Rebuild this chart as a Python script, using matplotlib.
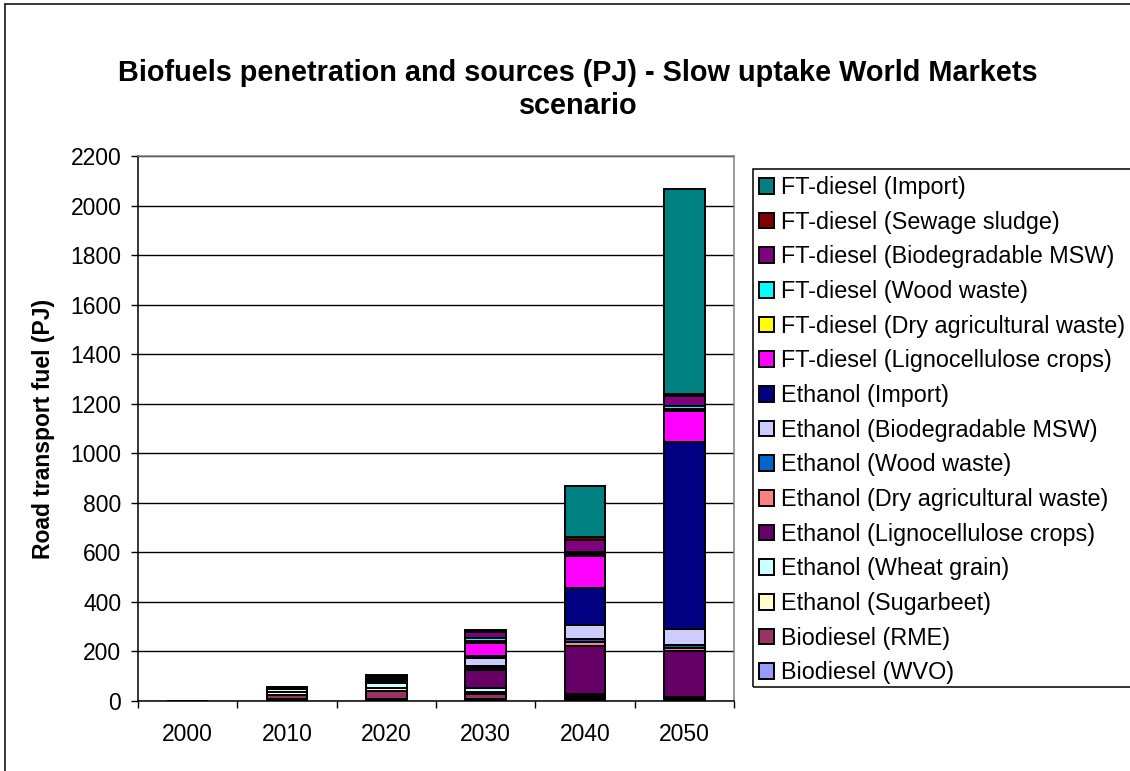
import matplotlib
matplotlib.use("Agg")
import matplotlib.pyplot as plt
from matplotlib.patches import Rectangle
import numpy as np

plt.rcParams['font.family'] = ['Liberation Sans', 'DejaVu Sans']

years = ['2000', '2010', '2020', '2030', '2040', '2050']

# Stack order, bottom to top
labels = [
    'Biodiesel (WVO)',
    'Biodiesel (RME)',
    'Ethanol (Sugarbeet)',
    'Ethanol (Wheat grain)',
    'Ethanol (Lignocellulose crops)',
    'Ethanol (Dry agricultural waste)',
    'Ethanol (Wood waste)',
    'Ethanol (Biodegradable MSW)',
    'Ethanol (Import)',
    'FT-diesel (Lignocellulose crops)',
    'FT-diesel (Dry agricultural waste)',
    'FT-diesel (Wood waste)',
    'FT-diesel (Biodegradable MSW)',
    'FT-diesel (Sewage sludge)',
    'FT-diesel (Import)',
]

wvo         = [0, 8, 10, 8, 8, 10]
rme         = [0, 18, 32, 20, 8, 5]
sugarbeet   = [0, 10, 12, 10, 6, 0]
wheat       = [0, 13, 20, 15, 8, 3]
eth_ligno   = [0, 4, 8, 72, 193, 182]
eth_dryagri = [0, 2, 4, 8, 14, 12]
eth_wood    = [0, 2, 4, 10, 13, 15]
eth_msw     = [0, 0, 5, 32, 57, 65]
eth_import  = [0, 0, 0, 5, 150, 753]
ft_ligno    = [0, 0, 3, 55, 130, 127]
ft_dryagri  = [0, 0, 0, 8, 8, 6]
ft_wood     = [0, 0, 0, 10, 8, 12]
ft_msw      = [0, 0, 3, 24, 45, 42]
ft_sewage   = [0, 0, 0, 4, 13, 8]
ft_import   = [0, 0, 3, 4, 207, 825]

series = [wvo, rme, sugarbeet, wheat, eth_ligno, eth_dryagri, eth_wood,
          eth_msw, eth_import, ft_ligno, ft_dryagri, ft_wood, ft_msw,
          ft_sewage, ft_import]

colors = ['#9999FF', '#993366', '#FFFFCC', '#CCFFFF', '#660066', '#FF8080',
          '#0066CC', '#CCCCFF', '#000080', '#FF00FF', '#FFFF00', '#00FFFF',
          '#800080', '#800000', '#008080']

W, H = 1130, 771
FS = 16.5
fig = plt.figure(figsize=(W / 100, H / 100), dpi=100)

# outer chart border (extends past right/bottom of canvas)
fig.patches.append(Rectangle((5 / W, -0.05), 1.1, 1 - 4 / H + 0.05,
                             transform=fig.transFigure, fill=False,
                             edgecolor='black', linewidth=1.1))

ax = fig.add_axes([138 / W, 1 - 701 / H, (734 - 138) / W, (701 - 156) / H])

x = np.arange(len(years))
bottom = np.zeros(len(years))
handles = []
for vals, col, lab in zip(series, colors, labels):
    v = np.array(vals, dtype=float)
    ax.bar(x, v, width=0.41, bottom=bottom, color=col, edgecolor='black',
           linewidth=1.4, zorder=3)
    bottom += v
    handles.append(Rectangle((0, 0), 1, 1, facecolor=col, edgecolor='black',
                             linewidth=1.4))

ax.set_xlim(-0.5, len(years) - 0.5)
ax.set_ylim(0, 2200)
ax.set_yticks(np.arange(0, 2201, 200))
ax.set_xticks(x)
ax.set_xticklabels(years)
ax.set_xticks(np.arange(-0.5, len(years), 1), minor=True)
ax.tick_params(axis='x', which='major', length=0, pad=15.5, labelsize=FS)
ax.tick_params(axis='x', which='minor', length=5, width=1, direction='out')
ax.tick_params(axis='y', length=5, width=1, direction='out', pad=7,
               labelsize=FS)
ax.yaxis.grid(True, color='black', linewidth=1, zorder=0)
ax.set_axisbelow(True)
for side in ('left', 'bottom'):
    ax.spines[side].set_color('black')
    ax.spines[side].set_linewidth(1.1)
for side in ('top', 'right'):
    ax.spines[side].set_color('#808080')
    ax.spines[side].set_linewidth(1.1)

ax.set_ylabel('Road transport fuel (PJ)', fontsize=FS, fontweight='bold',
              labelpad=11)

fig.text(578 / W, 1 - 89.5 / H,
         'Biofuels penetration and sources (PJ) - Slow uptake World Markets\nscenario',
         ha='center', va='center', fontsize=20.8, fontweight='bold',
         linespacing=1.25)

# legend frame and entries (top series listed first)
fig.patches.append(Rectangle((753 / W, 1 - 687 / H), 1.0, (687 - 169) / H,
                             transform=fig.transFigure, fill=False,
                             edgecolor='black', linewidth=1.1))
leg = fig.legend(handles[::-1], labels[::-1], loc='upper left',
                 bbox_to_anchor=(759 / W, 1 - 176 / H),
                 bbox_transform=fig.transFigure, frameon=False,
                 fontsize=16.8, handlelength=0.65, handleheight=0.65,
                 handletextpad=0.3, labelspacing=0.5, borderpad=0,
                 borderaxespad=0)

fig.savefig('out.png', dpi=100)
